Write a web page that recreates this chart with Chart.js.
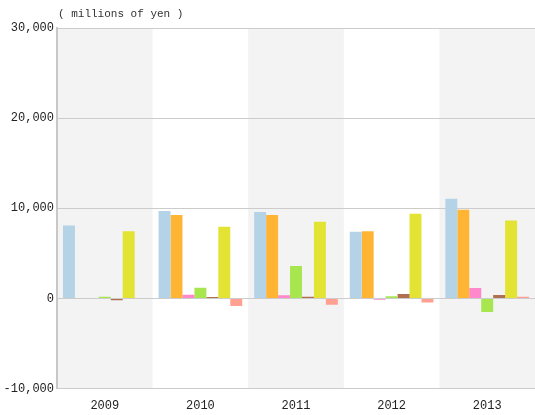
<!DOCTYPE html>
<html>
<head>
<meta charset="utf-8">
<script src="https://cdn.jsdelivr.net/npm/chart.js@4/dist/chart.umd.min.js"></script>
<style>
  body { margin: 0; background: #fff; }
  #wrap { width: 535px; height: 415px; }
</style>
</head>
<body>
<div id="wrap"><canvas id="grafico"></canvas></div>
<script>
var years = ['2009', '2010', '2011', '2012', '2013'];
var serieA = [8100, 9700, 9600, 7400, 11050];
var serieB = [0, 9250, 9250, 7450, 9850];
var serieC = [0, 400, 350, -150, 1150];
var serieD = [200, 1200, 3600, 250, -1500];
var serieE = [-200, 150, 200, 480, 370];
var serieF = [7450, 7950, 8500, 9400, 8650];
var serieG = [0, -850, -700, -450, 180];
var yTicks = [-10000, 0, 10000, 20000, 30000];
var unidad = '( millions of yen )';

var colores = ['#B4D3E6', '#FFB433', '#FF88CC', '#A8E650', '#B07050', '#E3E333', '#FFA090'];
var series = [serieA, serieB, serieC, serieD, serieE, serieF, serieG];
var fuente = 'Liberation Mono';

var bandas = {
  id: 'bandas',
  beforeDraw: function(chart) {
    var ctx = chart.ctx, area = chart.chartArea, x = chart.scales.x;
    ctx.save();
    for (var i = 0; i < years.length; i++) {
      if (i % 2 == 0) {
        var ancho = (area.right - area.left) / years.length;
        ctx.fillStyle = '#F3F3F3';
        ctx.fillRect(x.getPixelForValue(i) - ancho / 2, area.top, ancho, area.bottom - area.top);
      }
    }
    ctx.restore();
  },
  afterDraw: function(chart) {
    var ctx = chart.ctx, area = chart.chartArea;
    ctx.save();
    ctx.fillStyle = '#333';
    ctx.font = '11px "' + fuente + '"';
    ctx.textBaseline = 'alphabetic';
    ctx.fillText(unidad, area.left + 1, area.top - 11);
    ctx.restore();
  }
};

var canvas = document.getElementById('grafico').getContext('2d');
var chart = new Chart(canvas, {
  type: 'bar',
  data: {
    labels: years,
    datasets: series.map(function(s, i) {
      return {
        data: s,
        backgroundColor: colores[i],
        borderWidth: 0,
        categoryPercentage: 0.875,
        barPercentage: 1.0
      };
    })
  },
  options: {
    responsive: true,
    maintainAspectRatio: false,
    animation: false,
    layout: { padding: { top: 28, right: 0, bottom: 0, left: 0 } },
    plugins: { legend: { display: false }, tooltip: { enabled: false } },
    scales: {
      x: {
        grid: { display: false },
        border: { display: false },
        ticks: { color: '#222', font: { family: fuente, size: 12 }, padding: 2 }
      },
      y: {
        min: -10000,
        max: 30000,
        afterFit: function(scale) { scale.width = 57; },
        afterBuildTicks: function(scale) {
          scale.ticks = yTicks.map(function(v) { return { value: v }; });
        },
        grid: { color: '#cccccc', drawTicks: false },
        border: { color: '#c8c8c8', width: 2 },
        ticks: {
          color: '#222',
          padding: 3,
          font: { family: fuente, size: 12 },
          callback: function(v) { return v.toLocaleString('en-US'); }
        }
      }
    }
  },
  plugins: [bandas]
});
</script>
</body>
</html>
